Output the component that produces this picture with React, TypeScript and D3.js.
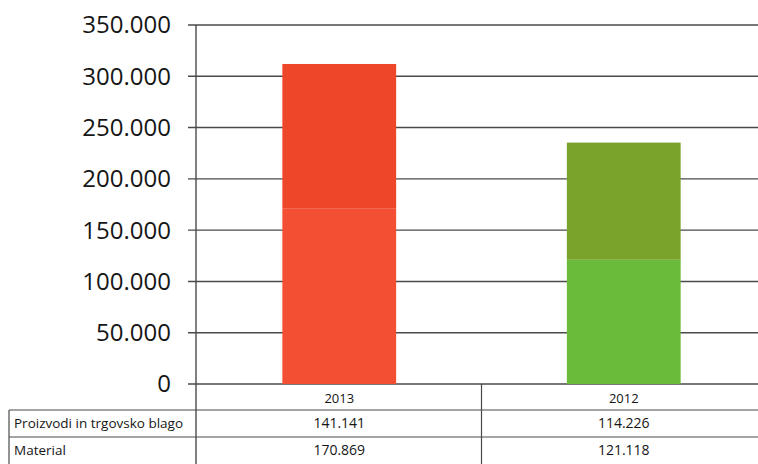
import React from "react";
import * as d3 from "d3";

// Years shown on the category axis
const categories = ["2013", "2012"];
// Series, stacked bottom to top
const seriesNames = ["Material", "Proizvodi in trgovsko blago"];
const material = [170869, 121118];
const proizvodi = [141141, 114226];
// Table rows, top to bottom
const tableRows = ["Proizvodi in trgovsko blago", "Material"];
const yTicks = [0, 50000, 100000, 150000, 200000, 250000, 300000, 350000];

// Colours per year: [Material, Proizvodi]
const barColors: Record<string, string[]> = {
  "2013": ["#F34F33", "#EE4629"],
  "2012": ["#6BBB3A", "#79A32A"],
};

const W = 758;
const H = 464;
const axisX = 196;
const plotRight = 766;
const plotTop = 25;
const plotBottom = 384;
const tableTop = 410;
const rowSep = 437;
const tableBottom = 463;
const tableLeft = 9;

const slLocale = d3.formatLocale({
  decimal: ",",
  thousands: ".",
  grouping: [3],
  currency: ["", " €"],
});
const fmt = slLocale.format(",.0f");

export default function App() {
  const x = d3
    .scaleBand<string>()
    .domain(categories)
    .range([axisX + 1, plotRight])
    .paddingInner(0.6)
    .paddingOuter(0.3);
  const y = d3.scaleLinear().domain([0, 350000]).range([plotBottom, plotTop]);

  const rows = categories.map((c, i) => ({
    cat: c,
    Material: material[i],
    "Proizvodi in trgovsko blago": proizvodi[i],
  }));
  const stacked = d3.stack<any>().keys(seriesNames)(rows);

  const step = x.step();
  const rowValues: Record<string, number[]> = {
    "Proizvodi in trgovsko blago": proizvodi,
    Material: material,
  };
  const gridColor = "#4a4a4a";
  const font = "'Open Sans', 'Liberation Sans', sans-serif";
  const textColor = "#161616";

  return (
    <svg
      width={W}
      height={H}
      style={{ position: "absolute", left: 0, top: 0, background: "#fff" }}
    >
      {/* horizontal gridlines and tick marks */}
      {yTicks.map((t) => (
        <g key={t}>
          <line
            x1={axisX - 8}
            x2={W}
            y1={y(t)}
            y2={y(t)}
            stroke={gridColor}
            strokeWidth={1.4}
          />
          <text
            x={171}
            y={y(t)}
            dy="0.35em"
            textAnchor="end"
            fontFamily={font}
            fontSize={24}
            fill={textColor}
          >
            {fmt(t)}
          </text>
        </g>
      ))}

      {/* stacked bars */}
      {stacked.map((layer, si) =>
        layer.map((d, ci) => {
          const cat = categories[ci];
          return (
            <rect
              key={`${si}-${ci}`}
              x={x(cat)}
              width={x.bandwidth()}
              y={y(d[1])}
              height={y(d[0]) - y(d[1])}
              fill={barColors[cat][si]}
            />
          );
        })
      )}

      {/* vertical axis */}
      <line x1={axisX} x2={axisX} y1={plotTop} y2={H} stroke={gridColor} strokeWidth={1.4} />

      {/* data table */}
      <line x1={tableLeft} x2={W} y1={tableTop} y2={tableTop} stroke={gridColor} strokeWidth={1.2} />
      <line x1={tableLeft} x2={W} y1={rowSep} y2={rowSep} stroke={gridColor} strokeWidth={1.2} />
      <line x1={tableLeft} x2={tableLeft} y1={tableTop} y2={H} stroke={gridColor} strokeWidth={1.2} />
      {categories.slice(1).map((c) => (
        <line
          key={c}
          x1={(x(c) as number) - (step - x.bandwidth()) / 2}
          x2={(x(c) as number) - (step - x.bandwidth()) / 2}
          y1={plotBottom}
          y2={H}
          stroke={gridColor}
          strokeWidth={1.2}
        />
      ))}
      {categories.map((c) => (
        <text
          key={c}
          x={(x(c) as number) + x.bandwidth() / 2}
          y={(plotBottom + tableTop) / 2 + 1}
          dy="0.35em"
          textAnchor="middle"
          fontFamily={font}
          fontSize={13}
          fontWeight={500}
          fill={textColor}
        >
          {c}
        </text>
      ))}
      {tableRows.map((r, ri) => {
        const cy = ri === 0 ? (tableTop + rowSep) / 2 : (rowSep + tableBottom) / 2;
        return (
          <g key={r}>
            <text
              x={tableLeft + 5}
              y={cy}
              dy="0.35em"
              fontFamily={font}
              fontSize={13.5}
              fontWeight={500}
              fill={textColor}
            >
              {r}
            </text>
            {categories.map((c, ci) => (
              <text
                key={c}
                x={(x(c) as number) + x.bandwidth() / 2}
                y={cy}
                dy="0.35em"
                textAnchor="middle"
                fontFamily={font}
                fontSize={14}
                fontWeight={500}
                fill={textColor}
              >
                {fmt(rowValues[r][ci])}
              </text>
            ))}
          </g>
        );
      })}
    </svg>
  );
}
